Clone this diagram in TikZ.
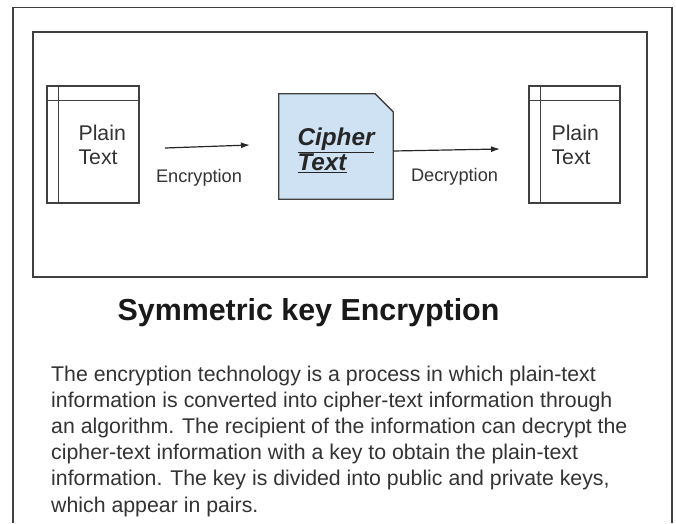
\documentclass[tikz,border=0pt]{standalone}
\usepackage{fontspec}
\setmainfont{Liberation Sans}
\usetikzlibrary{arrows.meta, positioning, backgrounds}

\definecolor{cipherblue}{HTML}{CFE2F3}
\definecolor{edgegray}{HTML}{404040}

\tikzset{
  docbox/.style={draw=edgegray, line width=1.3pt, minimum width=92pt, minimum height=117pt, inner sep=0pt},
  doctext/.style={align=left, font=\fontsize{21.3}{24}\selectfont, text=black!80, inner sep=0pt},
  flowlabel/.style={font=\fontsize{18.2}{22}\selectfont, text=black!80, inner sep=0pt},
  flowarrow/.style={-{Latex[length=9pt,width=6pt]}, line width=1.2pt, draw=black!85},
}

\begin{document}
\begin{tikzpicture}[x=1pt, y=-1pt]
    \useasboundingbox (0,0) rectangle (676,523);

    % Page frame and diagram frame
    \draw[line width=1.5pt, edgegray] (13,523) -- (13,7.5) -- (672,7.5) -- (672,523);
    \draw[line width=1.5pt, edgegray] (33,32) rectangle (647,277);

    % Plain text documents
    \node[docbox] (srcdoc) at (93,144.5) {};
    \node[docbox, minimum width=91pt] (dstdoc) at (574.5,144.5) {};
    \foreach \d in {srcdoc, dstdoc} {
        \draw[edgegray, line width=1.3pt] ([xshift=12pt]\d.north west) -- ([xshift=12pt]\d.south west);
        \draw[edgegray, line width=1.3pt] ([yshift=-15pt]\d.north west) -- ([yshift=-15pt]\d.north east);
    }
    \node[doctext, anchor=west] (srctxt) at ([xshift=32pt]srcdoc.west) {Plain\\Text};
    \node[doctext, anchor=west] (dsttxt) at ([xshift=23pt]dstdoc.west) {Plain\\Text};

    % Cipher text (page with folded corner)
    \node[minimum width=114pt, minimum height=105pt, inner sep=0pt] (cipher) at (336,146.5) {};
    \node[align=left, inner sep=0pt, text=black!85,
          font=\fontsize{24.3}{25}\selectfont\bfseries\itshape]
          (ciphertxt) at ([yshift=-4pt]cipher.center) {\underline{Cipher}\\\underline{Text}};
    \begin{scope}[on background layer]
        \draw[edgegray, fill=cipherblue, line width=1.3pt]
            (cipher.south west) -- (cipher.north west) -- ([xshift=-18pt]cipher.north east)
            -- ([yshift=-18pt]cipher.north east) -- (cipher.south east) -- cycle;
    \end{scope}

    % Encryption / decryption arrows
    \coordinate (encFrom) at (165,148);
    \coordinate (encTo) at (250,145);
    \coordinate (decTo) at (500,149);
    \draw[flowarrow] (encFrom) -- (encTo);
    \draw[flowarrow] ([yshift=-4.5pt]cipher.east) -- (decTo);
    \node[flowlabel] (enclbl) at (199,178) {Encryption};
    \node[flowlabel] (declbl) at (454.5,177) {Decryption};

    % Title and description
    \node[anchor=base, font=\fontsize{30.4}{36}\selectfont\bfseries, text=black!90]
        (title) at (308.5,320) {Symmetric key Encryption};
    \node[anchor=base west, align=left, inner sep=0pt, text=black!80,
          font=\fontsize{21.3}{26.2}\selectfont] (desc) at (51,512)
        {The encryption technology is a process in which plain-text\\
         information is converted into cipher-text information through\\
         an algorithm. The recipient of the information can decrypt the\\
         cipher-text information with a key to obtain the plain-text\\
         information. The key is divided into public and private keys,\\
         which appear in pairs.};

\end{tikzpicture}
\end{document}
